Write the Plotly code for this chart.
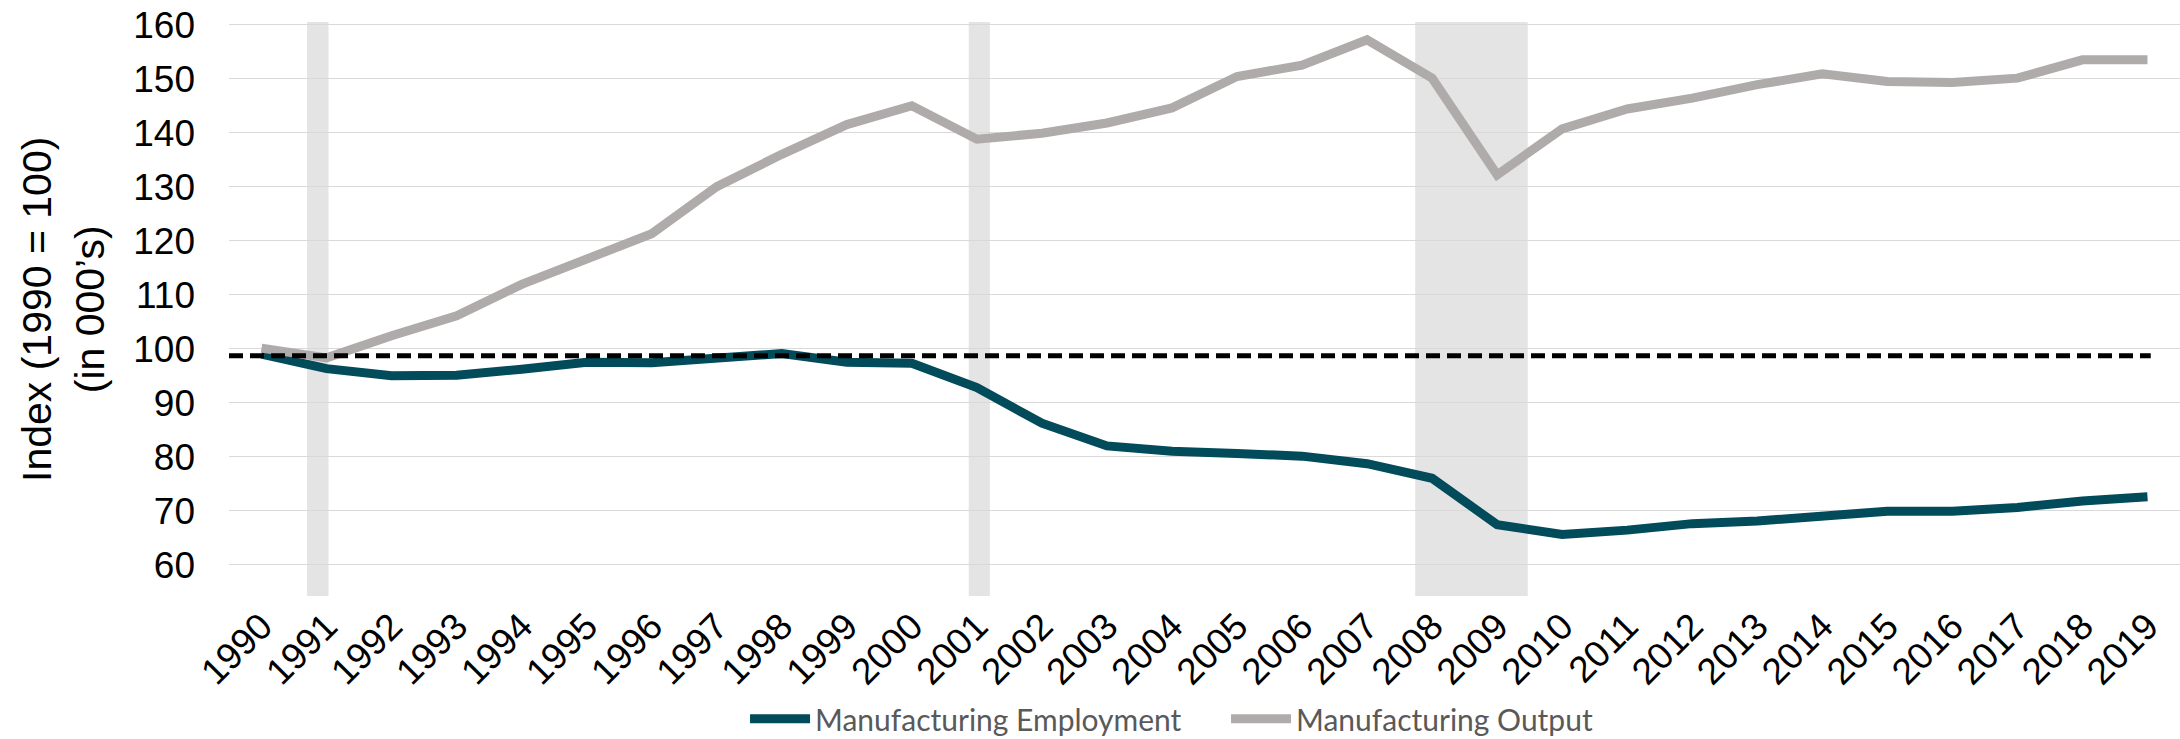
import plotly.graph_objects as go

years = list(range(1990, 2020))
year_labels = [str(y) for y in years]

employment = [99.0, 96.3, 95.0, 95.1, 96.2, 97.5, 97.4, 98.2, 99.1, 97.5,
              97.3, 92.8, 86.2, 82.0, 81.0, 80.6, 80.1, 78.7, 76.0, 67.4,
              65.6, 66.4, 67.6, 68.1, 69.0, 69.9, 69.9, 70.6, 71.8, 72.6]

output = [100.1, 98.3, 102.4, 106.1, 111.9, 116.8, 121.3, 130.0, 136.0, 141.5,
          145.0, 138.8, 139.9, 141.8, 144.6, 150.4, 152.5, 157.2, 150.1, 132.2,
          140.7, 144.4, 146.4, 148.9, 150.9, 149.5, 149.3, 150.1, 153.5, 153.5]

baseline = 98.7

# recession periods (start, end) in year units
recessions = [(1990.70, 1991.03), (2000.875, 2001.20), (2007.74, 2009.47)]

y_ticks = [60, 70, 80, 90, 100, 110, 120, 130, 140, 150, 160]

TEAL = "#024B5B"
GRAY = "#AFABAB"

fig = go.Figure()
fig.add_trace(go.Scatter(x=years, y=employment, mode="lines",
                         name="Manufacturing Employment",
                         line=dict(color=TEAL, width=9)))
fig.add_trace(go.Scatter(x=years, y=output, mode="lines",
                         name="Manufacturing Output",
                         line=dict(color=GRAY, width=9)))

for x0, x1 in recessions:
    fig.add_shape(type="rect", xref="x", yref="paper", x0=x0, x1=x1, y0=0, y1=1,
                  fillcolor="#E4E4E4", line=dict(width=0), layer="below")

fig.add_shape(type="line", xref="x", yref="y", x0=1989.5, x1=years[-1] + 0.05,
              y0=baseline, y1=baseline,
              line=dict(color="black", width=5, dash="14px,7px"), layer="above")

fig.add_annotation(text="Index (1990 = 100)<br>(in 000’s)", textangle=-90,
                   xref="paper", yref="paper", x=-0.0851, y=0.5,
                   xanchor="center", yanchor="middle", showarrow=False,
                   font=dict(family="Liberation Sans, Arial", size=41, color="black"))

fig.update_layout(
    width=2180, height=739,
    margin=dict(l=229, r=0, t=22, b=143, pad=0, autoexpand=False),
    plot_bgcolor="white", paper_bgcolor="white",
    showlegend=True,
    legend=dict(orientation="h", x=0.2645, xanchor="left",
                y=-0.214, yanchor="middle",
                font=dict(family="Lato, Open Sans", size=30, color="#595959"),
                itemwidth=60, tracegroupgap=0,
                entrywidth=406, entrywidthmode="pixels"),
    xaxis=dict(range=[1989.5, 2019.5], tickmode="array", tickvals=years,
               ticktext=year_labels, tickangle=-45, showgrid=False, zeroline=False,
               showline=False, ticks="", automargin=False,
               tickfont=dict(family="Liberation Sans, Arial", size=37, color="black")),
    yaxis=dict(range=[54.2, 160.5], tickmode="array", tickvals=y_ticks,
               showgrid=True, gridcolor="#D9D9D9", gridwidth=1.3, zeroline=False,
               showline=False, ticks="", ticklabelstandoff=33, automargin=False,
               tickfont=dict(family="Liberation Sans, Arial", size=37, color="black")),
)

fig.write_html("out.html", config={"displayModeBar": False},
               post_script="document.body.style.margin='0px';")
